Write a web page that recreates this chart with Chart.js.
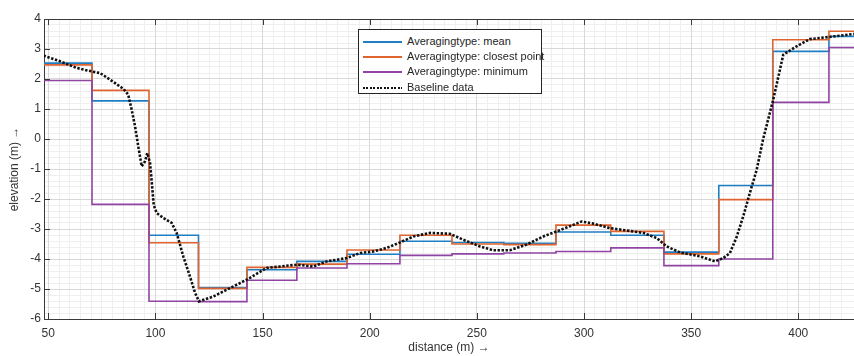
<!DOCTYPE html>
<html>
<head>
<meta charset="utf-8">
<script src="https://cdn.jsdelivr.net/npm/chart.js@4/dist/chart.umd.min.js"></script>
<style>
  html, body { margin: 0; padding: 0; background: #fff; overflow: hidden; }
  #wrap { position: relative; width: 854px; height: 356px; }
  #legend {
    position: absolute; left: 358px; top: 29px; width: 184px; height: 65px;
    border: 1px solid #262626; background: #fff; box-sizing: border-box;
    font-family: "Liberation Sans", Arial, sans-serif; font-size: 11px; color: #262626;
    padding-top: 4px;
  }
  .item { position: relative; height: 15.2px; line-height: 15.2px; white-space: nowrap; }
  .sample { position: absolute; left: 4px; top: 7px; width: 39px; height: 2px; }
  .txt { position: absolute; left: 48px; top: 0; }
</style>
</head>
<body>
<div id="wrap">
  <canvas id="c" width="854" height="356"></canvas>
  <div id="legend"></div>
</div>
<script>
// ---- data ----
const seriesLabels = ["Averagingtype: mean", "Averagingtype: closest point", "Averagingtype: minimum", "Baseline data"];
const stepEdges = [48, 70.4, 97.0, 120.1, 142.7, 166.0, 189.4, 214.1, 238.4, 262.6, 286.9, 312.5, 337.3, 362.9, 388.1, 414.3, 426];
const meanValues = [2.53, 1.27, -3.21, -4.95, -4.36, -4.08, -3.84, -3.41, -3.45, -3.48, -3.10, -3.21, -3.77, -1.55, 2.92, 3.42];
const closestValues = [2.47, 1.62, -3.46, -4.98, -4.28, -4.17, -3.70, -3.21, -3.50, -3.52, -2.87, -3.08, -3.83, -2.02, 3.31, 3.59];
const minimumValues = [1.95, -2.18, -5.41, -5.42, -4.71, -4.30, -4.16, -3.88, -3.83, -3.80, -3.75, -3.63, -4.22, -4.00, 1.22, 3.05];
const baselineX = [47.8, 55.5, 63.2, 70.4, 74.1, 78.8, 85.1, 87.3, 88.9, 90.5, 92.0, 93.6, 95.1, 96.2, 97.5, 98.3, 99.2, 100.6, 103.7, 107.6, 109.9, 113.0, 116.1, 118.5, 120.3, 127.0, 134.8, 142.6, 151.9, 158.1, 165.9, 173.7, 179.9, 189.2, 195.5, 201.7, 207.9, 214.1, 220.4, 228.1, 237.4, 243.7, 251.5, 257.7, 265.4, 273.2, 281.0, 287.2, 293.4, 298.9, 304.3, 312.1, 319.9, 327.7, 333.9, 338.6, 344.8, 354.1, 361.1, 365.0, 368.1, 371.3, 374.3, 377.4, 380.6, 383.6, 388.3, 393.0, 399.2, 405.4, 414.3, 426.0];
const baselineY = [2.78, 2.59, 2.37, 2.25, 2.20, 1.98, 1.67, 1.48, 0.98, 0.42, -0.25, -0.91, -0.75, -0.47, -0.80, -1.45, -2.20, -2.47, -2.63, -2.80, -3.13, -3.91, -4.58, -5.13, -5.41, -5.25, -4.97, -4.69, -4.30, -4.25, -4.19, -4.25, -4.08, -3.97, -3.80, -3.75, -3.63, -3.45, -3.25, -3.13, -3.16, -3.36, -3.58, -3.71, -3.71, -3.52, -3.25, -3.08, -2.91, -2.75, -2.82, -2.97, -3.05, -3.13, -3.30, -3.58, -3.78, -3.91, -4.08, -3.97, -3.80, -3.25, -2.58, -1.80, -1.02, 0.00, 1.31, 2.81, 3.09, 3.33, 3.40, 3.50];
const xTickValues = [50, 100, 150, 200, 250, 300, 350, 400];
const yTickValues = [-6, -5, -4, -3, -2, -1, 0, 1, 2, 3, 4];
const xRange = [48, 426];
const yRange = [-6, 4];

// ---- helpers ----
function stepPoints(edges, vals) {
  const pts = vals.map((v, i) => ({ x: edges[i], y: v }));
  pts.push({ x: edges[edges.length - 1], y: vals[vals.length - 1] });
  return pts;
}
const FONT = "'Liberation Sans', Arial, sans-serif";
const TXT = '#333333';
const AXIS = '#3a3a3a';

const boxAndTicks = {
  id: 'boxAndTicks',
  afterDraw(chart) {
    const { ctx, chartArea: a, scales } = chart;
    ctx.save();
    ctx.strokeStyle = AXIS;
    ctx.lineWidth = 1;
    ctx.beginPath();
    ctx.moveTo(a.left, a.top + 0.5); ctx.lineTo(a.right, a.top + 0.5);
    const L = 6;
    scales.x.ticks.forEach(t => {
      const px = Math.round(scales.x.getPixelForValue(t.value)) + 0.5;
      ctx.moveTo(px, a.bottom); ctx.lineTo(px, a.bottom - L);
      ctx.moveTo(px, a.top); ctx.lineTo(px, a.top + L);
    });
    scales.y.ticks.forEach(t => {
      const py = Math.round(scales.y.getPixelForValue(t.value)) + 0.5;
      ctx.moveTo(a.left, py); ctx.lineTo(a.left + L, py);
    });
    ctx.stroke();
    ctx.restore();
  }
};

const chart = new Chart(document.getElementById('c'), {
  type: 'line',
  data: {
    datasets: [
      { label: seriesLabels[0], data: stepPoints(stepEdges, meanValues), stepped: 'before',
        borderColor: '#1f7fc4', borderWidth: 1.6, pointRadius: 0, order: 3 },
      { label: seriesLabels[1], data: stepPoints(stepEdges, closestValues), stepped: 'before',
        borderColor: '#e0642f', borderWidth: 1.6, pointRadius: 0, order: 2 },
      { label: seriesLabels[2], data: stepPoints(stepEdges, minimumValues), stepped: 'before',
        borderColor: '#9045a3', borderWidth: 1.6, pointRadius: 0, order: 1 },
      { label: seriesLabels[3], data: baselineX.map((x, i) => ({ x: x, y: baselineY[i] })),
        borderColor: '#111111', borderWidth: 2.6, borderDash: [2.4, 1.6], pointRadius: 0,
        tension: 0, order: 0 }
    ]
  },
  options: {
    responsive: false,
    animation: false,
    events: [],
    layout: { padding: { top: 19, right: 0, left: 0, bottom: 0 } },
    plugins: { legend: { display: false }, tooltip: { enabled: false } },
    scales: {
      xMinor: {
        type: 'linear', position: 'bottom', min: xRange[0], max: xRange[1],
        ticks: { display: false, stepSize: 5 },
        grid: { color: '#efefef', drawTicks: false, z: -2 },
        border: { display: false },
        afterFit(s) { s.height = 0; }
      },
      yMinor: {
        type: 'linear', position: 'left', min: yRange[0], max: yRange[1],
        ticks: { display: false, stepSize: 0.2 },
        grid: { color: '#efefef', drawTicks: false, z: -2 },
        border: { display: false },
        afterFit(s) { s.width = 0; }
      },
      x: {
        type: 'linear', position: 'bottom', min: xRange[0], max: xRange[1],
        afterBuildTicks(s) { s.ticks = xTickValues.map(v => ({ value: v })); },
        ticks: { color: TXT, font: { family: FONT, size: 12 }, padding: 7, maxRotation: 0,
                 callback: v => String(v) },
        grid: { color: '#d8d8d8', drawTicks: false, z: -1 },
        border: { color: AXIS, width: 1 },
        title: { display: true, text: 'distance (m) \u2192', color: TXT,
                 font: { family: FONT, size: 12 }, padding: { top: 0, bottom: 1 } },
        afterFit(s) { s.height = 37; }
      },
      y: {
        type: 'linear', position: 'left', min: yRange[0], max: yRange[1],
        afterBuildTicks(s) { s.ticks = yTickValues.map(v => ({ value: v })); },
        ticks: { color: TXT, font: { family: FONT, size: 12 }, padding: 3,
                 callback: v => String(v) },
        grid: { color: '#d8d8d8', drawTicks: false, z: -1 },
        border: { color: AXIS, width: 1 },
        title: { display: true, text: 'elevation (m) \u2192', color: TXT,
                 font: { family: FONT, size: 12 }, padding: { top: 7, bottom: 0 } },
        afterFit(s) { s.width = 44; }
      }
    }
  },
  plugins: [boxAndTicks]
});

// HTML legend built from the chart's datasets
const legend = document.getElementById('legend');
chart.data.datasets.forEach(ds => {
  const item = document.createElement('div');
  item.className = 'item';
  const sample = document.createElement('div');
  sample.className = 'sample';
  if (ds.borderDash) {
    sample.style.background = 'repeating-linear-gradient(90deg, ' + ds.borderColor +
      ' 0 2px, transparent 2px 3.5px)';
  } else {
    sample.style.background = ds.borderColor;
    sample.style.height = '1.6px';
  }
  const txt = document.createElement('span');
  txt.className = 'txt';
  txt.textContent = ds.label;
  item.appendChild(sample);
  item.appendChild(txt);
  legend.appendChild(item);
});
</script>
</body>
</html>
